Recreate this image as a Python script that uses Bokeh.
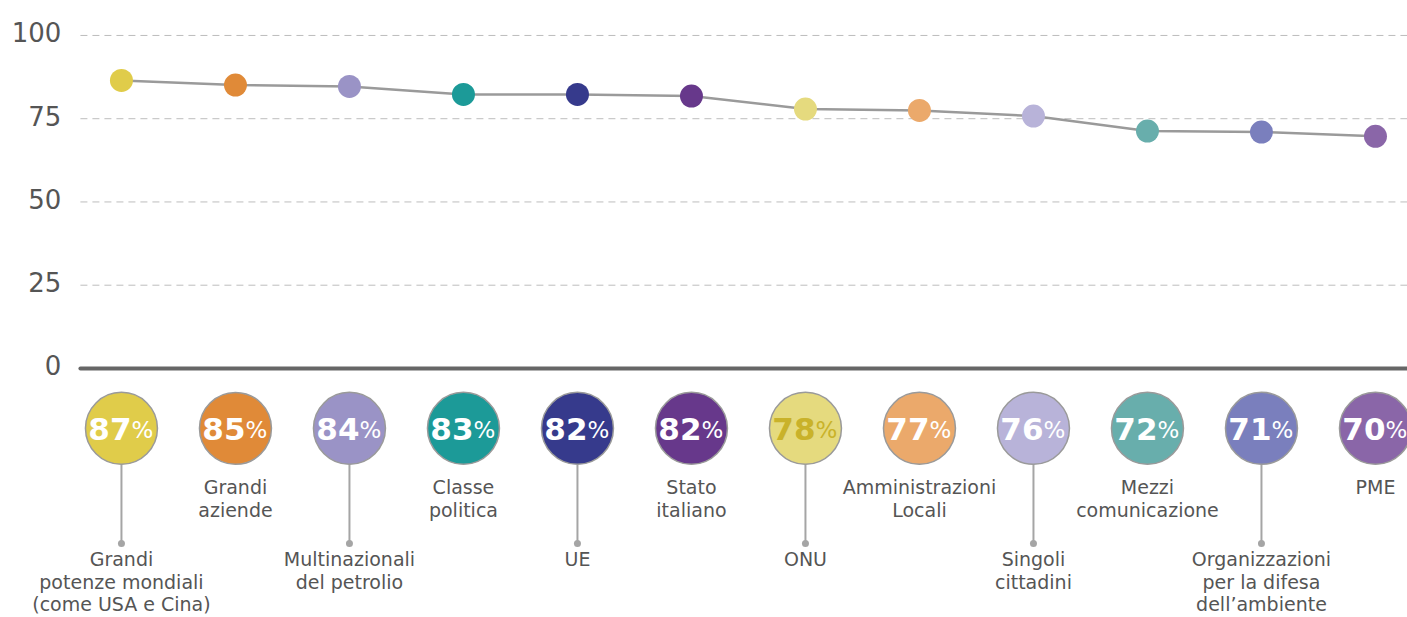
from bokeh.plotting import figure
from bokeh.models import ColumnDataSource, Range1d
from bokeh.core.properties import value
from bokeh.embed import file_html
from bokeh.resources import INLINE

# ---- data ----
categories = [
    "Grandi\npotenze mondiali\n(come USA e Cina)",
    "Grandi\naziende",
    "Multinazionali\ndel petrolio",
    "Classe\npolitica",
    "UE",
    "Stato\nitaliano",
    "ONU",
    "Amministrazioni\nLocali",
    "Singoli\ncittadini",
    "Mezzi\ncomunicazione",
    "Organizzazioni\nper la difesa\ndell’ambiente",
    "PME",
]
values = [86.5, 85.1, 84.7, 82.3, 82.3, 81.8, 77.9, 77.5, 75.8, 71.3, 71.0, 69.7]
pct_labels = ["87", "85", "84", "83", "82", "82", "78", "77", "76", "72", "71", "70"]
colors = ["#E0CC4A", "#E08A38", "#9A93C6", "#1C9A98", "#363A8C", "#67388B",
          "#E5DA7E", "#EBA96B", "#B8B3D9", "#68AEAC", "#7A7FBD", "#8A66A8"]
pct_text_colors = ["white"] * 6 + ["#C9B22A"] + ["white"] * 5
y_ticks = [0, 25, 50, 75, 100]
y_tick_labels = ["0", "25", "50", "75", "100"]

FONT = "DejaVu Sans"
n = len(categories)
xs = list(range(n))

# layout constants
X_MIN, X_MAX = -1.061, 11.281      # frame spans the whole canvas
GRID_X0 = -0.36                    # where the gridlines start
BADGE_Y = -18.0
STEM_TOP = -28.8
STEM_END = -52.6
LABEL_SHORT_TOP = -32.4
LABEL_LONG_TOP = -54.0

p = figure(width=1407, height=617, output_backend="svg", toolbar_location=None,
           x_axis_location=None, y_axis_location=None,
           x_range=Range1d(X_MIN, X_MAX), y_range=Range1d(-74.8, 110.5),
           min_border_left=0, min_border_right=0, min_border_top=0, min_border_bottom=0)
p.outline_line_color = None
p.grid.visible = False

# gridlines (dashed) and zero baseline
grid_ticks = [t for t in y_ticks if t != 0]
p.segment(x0=[GRID_X0] * len(grid_ticks), y0=grid_ticks,
          x1=[X_MAX] * len(grid_ticks), y1=grid_ticks,
          line_color="#bdbdbd", line_width=1, line_dash="7 5")
p.segment(x0=[GRID_X0], y0=[0], x1=[X_MAX], y1=[0],
          line_color="#666666", line_width=4, line_cap="round")

# y tick labels
p.text(x=[GRID_X0] * len(y_ticks), y=y_ticks, text=y_tick_labels,
       text_color="#555555", text_font=value(FONT), text_font_size="26px",
       text_align="right", text_baseline="middle", x_offset=-19, y_offset=-3)

src = ColumnDataSource(dict(
    x=xs, y=values, color=colors, pct=pct_labels, pct_color=pct_text_colors,
    badge_y=[BADGE_Y] * n,
))

p.line("x", "y", source=src, line_color="#9a9a9a", line_width=2.5)
p.scatter("x", "y", source=src, size=23, fill_color="color", line_color=None)

# stems for alternating labels
stem_x = [i for i in xs if i % 2 == 0]
p.segment(x0=stem_x, y0=[STEM_TOP] * len(stem_x), x1=stem_x, y1=[STEM_END] * len(stem_x),
          line_color="#a5a5a5", line_width=2)
p.scatter(x=stem_x, y=[STEM_END] * len(stem_x), size=7, fill_color="#a5a5a5", line_color=None)

# badges
p.scatter("x", "badge_y", source=src, size=72, fill_color="color",
          line_color="#9a9a9a", line_width=1.5)
p.text("x", "badge_y", text="pct", source=src, text_color="pct_color",
       text_font=value(FONT), text_font_style="bold", text_font_size="31px",
       text_align="right", text_baseline="middle", x_offset=10, y_offset=1)
p.text("x", "badge_y", text=value("%"), source=src, text_color="pct_color",
       text_font=value(FONT), text_font_size="23px",
       text_align="left", text_baseline="middle", x_offset=10, y_offset=2)

# category labels
lab_y = [LABEL_LONG_TOP if i % 2 == 0 else LABEL_SHORT_TOP for i in xs]
p.text(x=xs, y=lab_y, text=categories, text_color="#555555",
       text_font=value(FONT), text_font_size="19px", text_align="center",
       text_baseline="top", text_line_height=1.02)

open("out.html", "w").write(file_html(p, INLINE))
